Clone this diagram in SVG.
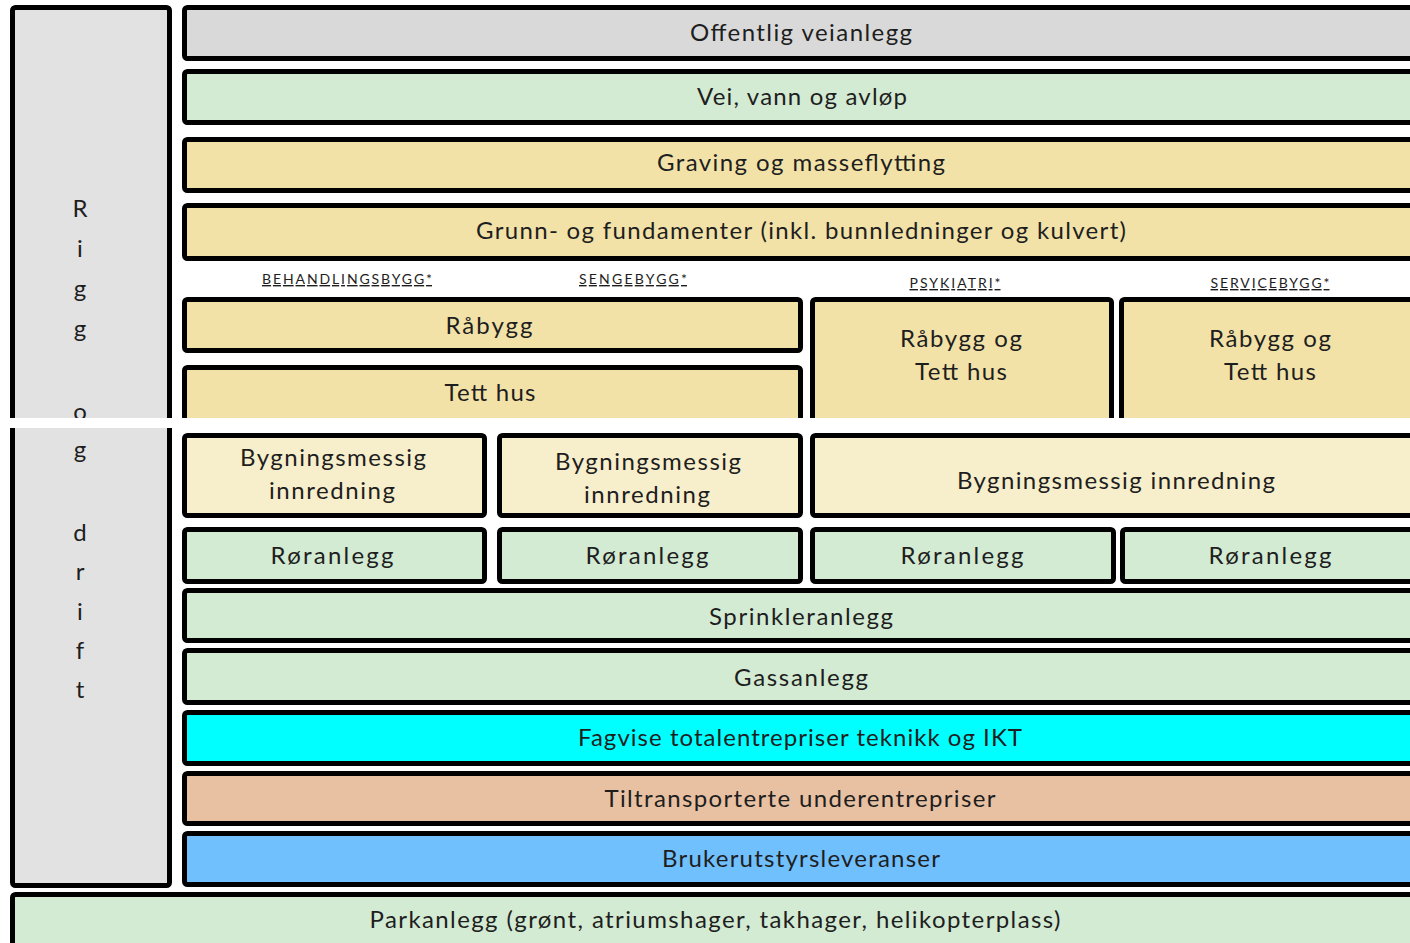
<svg xmlns="http://www.w3.org/2000/svg" width="1410" height="943" viewBox="0 0 1410 943">
<style>
.b{stroke:#000;stroke-width:5}
.t{font-family:Lato,"Liberation Sans",sans-serif;font-size:24px;fill:#1e1e1e;text-anchor:middle}
.s{font-family:Lato,"Liberation Sans",sans-serif;font-size:14px;fill:#1e1e1e;text-anchor:middle;text-decoration:underline}
.gray{fill:#d9d9d9}.rig{fill:#e2e2e2}.grn{fill:#d3ead3}.tan{fill:#f2e2a8}.crm{fill:#f7efcb}
.cyn{fill:#00ffff}.pch{fill:#e8c1a2}.blu{fill:#71c0fe}
</style>
<rect width="1410" height="943" fill="#fff"/>
<g id="rigg">
<rect class="b rig" x="12.5" y="7.5" width="157" height="878" rx="3"/>
<text class="t">
<tspan x="80" y="217">R</tspan><tspan x="80" y="257">i</tspan><tspan x="80" y="297">g</tspan><tspan x="80" y="337">g</tspan><tspan x="80" y="420">o</tspan><tspan x="80" y="458">g</tspan><tspan x="80" y="541">d</tspan><tspan x="80" y="580">r</tspan><tspan x="80" y="620">i</tspan><tspan x="80" y="659">f</tspan><tspan x="80" y="698">t</tspan>
</text>
</g>
<g id="offentlig"><rect class="b gray" x="184.5" y="7.5" width="1233" height="51" rx="3"/><text class="t" x="801" y="41" textLength="222">Offentlig veianlegg</text></g>
<g id="vei"><rect class="b grn" x="184.5" y="71.5" width="1233" height="51" rx="3"/><text class="t" x="802" y="105" textLength="210">Vei, vann og avløp</text></g>
<g id="graving"><rect class="b tan" x="184.5" y="139.5" width="1233" height="51" rx="3"/><text class="t" x="801" y="171" textLength="288">Graving og masseflytting</text></g>
<g id="grunn"><rect class="b tan" x="184.5" y="205.5" width="1233" height="53" rx="3"/><text class="t" x="801" y="239" textLength="650">Grunn- og fundamenter (inkl. bunnledninger og kulvert)</text></g>
<g id="labels">
<text class="s" x="347" y="284" textLength="170">BEHANDLINGSBYGG*</text>
<text class="s" x="633" y="284" textLength="108">SENGEBYGG*</text>
<text class="s" x="955" y="288" textLength="91">PSYKIATRI*</text>
<text class="s" x="1270" y="288" textLength="119">SERVICEBYGG*</text>
</g>
<g id="rabygg"><rect class="b tan" x="184.5" y="299.5" width="616" height="51" rx="3"/><text class="t" x="489" y="334" textLength="87">Råbygg</text></g>
<g id="tetthus"><rect class="b tan" x="184.5" y="367.5" width="616" height="56" rx="3"/><text class="t" x="490" y="401" textLength="91">Tett hus</text></g>
<g id="psykiatri"><rect class="b tan" x="812.5" y="299.5" width="299" height="124" rx="3"/><text class="t" x="961" y="347" textLength="122">Råbygg og</text><text class="t" x="961" y="380" textLength="92">Tett hus</text></g>
<g id="service"><rect class="b tan" x="1121.5" y="299.5" width="296" height="124" rx="3"/><text class="t" x="1270" y="347" textLength="122">Råbygg og</text><text class="t" x="1270" y="380" textLength="92">Tett hus</text></g>
<rect id="gap" x="0" y="418" width="1410" height="10" fill="#fff"/>
<g id="byg1"><rect class="b crm" x="184.5" y="435.5" width="300" height="80" rx="3"/><text class="t" x="333" y="466" textLength="186">Bygningsmessig</text><text class="t" x="332" y="499" textLength="126">innredning</text></g>
<g id="byg2"><rect class="b crm" x="499.5" y="435.5" width="301" height="80" rx="3"/><text class="t" x="648" y="470" textLength="186">Bygningsmessig</text><text class="t" x="647" y="503" textLength="126">innredning</text></g>
<g id="byg3"><rect class="b crm" x="812.5" y="435.5" width="605" height="80" rx="3"/><text class="t" x="1116" y="489" textLength="318">Bygningsmessig innredning</text></g>
<g id="ror1"><rect class="b grn" x="184.5" y="529.5" width="300" height="52" rx="3"/><text class="t" x="332" y="564" textLength="123">Røranlegg</text></g>
<g id="ror2"><rect class="b grn" x="499.5" y="529.5" width="301" height="52" rx="3"/><text class="t" x="647" y="564" textLength="123">Røranlegg</text></g>
<g id="ror3"><rect class="b grn" x="812.5" y="529.5" width="301" height="52" rx="3"/><text class="t" x="962" y="564" textLength="123">Røranlegg</text></g>
<g id="ror4"><rect class="b grn" x="1122.5" y="529.5" width="295" height="52" rx="3"/><text class="t" x="1270" y="564" textLength="123">Røranlegg</text></g>
<g id="sprinkler"><rect class="b grn" x="184.5" y="590.5" width="1233" height="50" rx="3"/><text class="t" x="801" y="625" textLength="184">Sprinkleranlegg</text></g>
<g id="gass"><rect class="b grn" x="184.5" y="650.5" width="1233" height="52" rx="3"/><text class="t" x="801" y="686" textLength="134">Gassanlegg</text></g>
<g id="fagvise"><rect class="b cyn" x="184.5" y="712.5" width="1233" height="51" rx="3"/><text class="t" x="800" y="746" textLength="444">Fagvise totalentrepriser teknikk og IKT</text></g>
<g id="tiltrans"><rect class="b pch" x="184.5" y="773.5" width="1233" height="50" rx="3"/><text class="t" x="800" y="807" textLength="391">Tiltransporterte underentrepriser</text></g>
<g id="bruker"><rect class="b blu" x="184.5" y="833.5" width="1233" height="51" rx="3"/><text class="t" x="801" y="867" textLength="278">Brukerutstyrsleveranser</text></g>
<g id="park"><rect class="b grn" x="12.5" y="894.5" width="1405" height="55" rx="3"/><text class="t" x="715" y="928" textLength="691">Parkanlegg (grønt, atriumshager, takhager, helikopterplass)</text></g>
<g id="connectors"/>
</svg>
